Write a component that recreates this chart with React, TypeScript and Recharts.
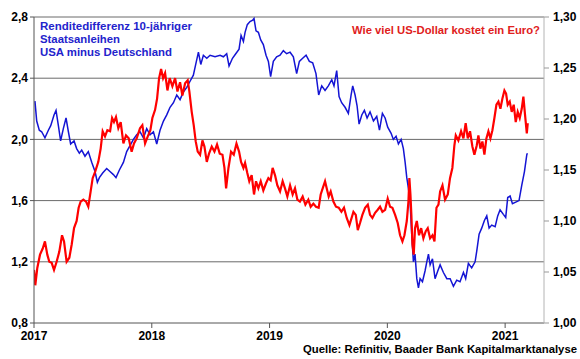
import React from "react";
import { LineChart, Line, XAxis, YAxis, ReferenceLine } from "recharts";

// Renditedifferenz 10-jähriger Staatsanleihen USA minus Deutschland (linke Achse)
const spreadDates = [
  2017.008, 2017.023, 2017.045, 2017.065, 2017.093, 2017.122, 2017.142, 2017.17, 2017.187, 2017.207,
  2017.226, 2017.249, 2017.272, 2017.292, 2017.311, 2017.34, 2017.362, 2017.385, 2017.405, 2017.433,
  2017.461, 2017.49, 2017.518, 2017.538, 2017.555, 2017.583, 2017.617, 2017.645, 2017.674, 2017.696,
  2017.725, 2017.759, 2017.787, 2017.815, 2017.844, 2017.872, 2017.9, 2017.929, 2017.957, 2017.985,
  2018.014, 2018.042, 2018.07, 2018.099, 2018.127, 2018.155, 2018.184, 2018.212, 2018.24, 2018.268,
  2018.297, 2018.325, 2018.353, 2018.373, 2018.396, 2018.416, 2018.438, 2018.467, 2018.495, 2018.537,
  2018.58, 2018.608, 2018.636, 2018.656, 2018.685, 2018.713, 2018.741, 2018.758, 2018.778, 2018.792,
  2018.811, 2018.834, 2018.857, 2018.868, 2018.885, 2018.905, 2018.925, 2018.947, 2018.97, 2018.99,
  2019.009, 2019.032, 2019.06, 2019.089, 2019.117, 2019.145, 2019.174, 2019.202, 2019.23, 2019.253,
  2019.281, 2019.31, 2019.338, 2019.366, 2019.394, 2019.417, 2019.443, 2019.471, 2019.499, 2019.528,
  2019.547, 2019.57, 2019.59, 2019.612, 2019.641, 2019.669, 2019.692, 2019.706, 2019.726, 2019.743,
  2019.76, 2019.783, 2019.805, 2019.828, 2019.853, 2019.882, 2019.91, 2019.933, 2019.958, 2019.981,
  2020.003, 2020.032, 2020.051, 2020.074, 2020.094, 2020.117, 2020.136, 2020.151, 2020.165, 2020.179,
  2020.193, 2020.207, 2020.221, 2020.235, 2020.25, 2020.264, 2020.278, 2020.298, 2020.32, 2020.335,
  2020.349, 2020.363, 2020.383, 2020.405, 2020.428, 2020.448, 2020.476, 2020.505, 2020.533, 2020.561,
  2020.589, 2020.617, 2020.646, 2020.665, 2020.688, 2020.716, 2020.745, 2020.759, 2020.779, 2020.801,
  2020.824, 2020.844, 2020.864, 2020.886, 2020.915, 2020.937, 2020.957, 2020.985, 2021.005, 2021.022,
  2021.042, 2021.062, 2021.09, 2021.118, 2021.141, 2021.164, 2021.184, 2021.189,
];
const spreadValues = [
  2.25, 2.12, 2.06, 2.05, 2.01, 2.06, 2.09, 2.16, 2.19, 2.09,
  1.99, 2.07, 2.14, 2.05, 1.97, 1.99, 1.94, 1.91, 1.93, 1.89,
  1.92, 1.85, 1.79, 1.72, 1.75, 1.78, 1.81, 1.79, 1.77, 1.75,
  1.8, 1.85, 1.92, 1.96, 2.0, 2.03, 2.05, 2.01, 2.07, 2.03,
  2.05, 1.97, 2.06, 2.12, 2.16, 2.21, 2.24, 2.29, 2.26, 2.31,
  2.34, 2.38, 2.42, 2.49, 2.57, 2.49, 2.55, 2.53, 2.55, 2.54,
  2.55, 2.54, 2.56, 2.48, 2.53, 2.56, 2.59, 2.68, 2.64, 2.7,
  2.75, 2.77, 2.78, 2.79, 2.71, 2.7, 2.65, 2.62, 2.55, 2.51,
  2.41, 2.51, 2.54, 2.55, 2.58, 2.56, 2.57, 2.54, 2.43, 2.51,
  2.53, 2.55, 2.51, 2.5, 2.43, 2.29, 2.35, 2.32, 2.35, 2.39,
  2.35, 2.45, 2.28, 2.24, 2.21, 2.17, 2.29, 2.35, 2.29, 2.22,
  2.1, 2.16, 2.19, 2.14, 2.18, 2.12, 2.15, 2.06, 2.17, 2.14,
  2.08, 2.04, 2.0, 2.02, 1.97, 2.0, 1.94, 1.85, 1.75, 1.68,
  1.59, 1.38, 1.2, 1.25, 1.09, 1.03, 1.09, 1.07, 1.14, 1.2,
  1.25, 1.18, 1.22, 1.09, 1.14, 1.18, 1.13, 1.09, 1.09, 1.04,
  1.08, 1.07, 1.13, 1.09, 1.19, 1.16, 1.2, 1.27, 1.38, 1.42,
  1.47, 1.5, 1.42, 1.44, 1.43, 1.5, 1.54, 1.51, 1.49, 1.62,
  1.63, 1.58, 1.59, 1.6, 1.7, 1.79, 1.9, 1.91,
];

// Wie viel US-Dollar kostet ein Euro? (rechte Achse)
const eurusdDates = [
  2017.0, 2017.011, 2017.028, 2017.051, 2017.074, 2017.093, 2017.113, 2017.13, 2017.15, 2017.17,
  2017.192, 2017.215, 2017.238, 2017.255, 2017.277, 2017.3, 2017.32, 2017.34, 2017.362, 2017.379,
  2017.396, 2017.419, 2017.442, 2017.461, 2017.481, 2017.498, 2017.518, 2017.546, 2017.566, 2017.583,
  2017.603, 2017.623, 2017.646, 2017.663, 2017.679, 2017.696, 2017.716, 2017.736, 2017.759, 2017.781,
  2017.804, 2017.829, 2017.849, 2017.872, 2017.9, 2017.92, 2017.943, 2017.966, 2017.988, 2018.005,
  2018.028, 2018.045, 2018.062, 2018.079, 2018.096, 2018.113, 2018.133, 2018.152, 2018.175, 2018.198,
  2018.218, 2018.24, 2018.26, 2018.283, 2018.305, 2018.319, 2018.339, 2018.356, 2018.373, 2018.39,
  2018.41, 2018.43, 2018.447, 2018.467, 2018.486, 2018.509, 2018.532, 2018.554, 2018.577, 2018.6,
  2018.617, 2018.631, 2018.651, 2018.673, 2018.696, 2018.719, 2018.741, 2018.758, 2018.778, 2018.792,
  2018.811, 2018.828, 2018.848, 2018.868, 2018.885, 2018.905, 2018.925, 2018.947, 2018.97, 2018.99,
  2019.009, 2019.026, 2019.046, 2019.066, 2019.089, 2019.111, 2019.131, 2019.151, 2019.174, 2019.196,
  2019.216, 2019.236, 2019.258, 2019.281, 2019.304, 2019.329, 2019.349, 2019.372, 2019.394, 2019.417,
  2019.434, 2019.451, 2019.471, 2019.485, 2019.502, 2019.519, 2019.542, 2019.564, 2019.587, 2019.61,
  2019.632, 2019.655, 2019.678, 2019.712, 2019.732, 2019.749, 2019.768, 2019.788, 2019.811, 2019.834,
  2019.853, 2019.873, 2019.896, 2019.918, 2019.938, 2019.958, 2019.981, 2020.003, 2020.023, 2020.043,
  2020.066, 2020.088, 2020.108, 2020.128, 2020.145, 2020.165, 2020.179, 2020.187, 2020.196, 2020.204,
  2020.213, 2020.224, 2020.235, 2020.25, 2020.269, 2020.287, 2020.306, 2020.326, 2020.343, 2020.363,
  2020.383, 2020.4, 2020.417, 2020.434, 2020.448, 2020.468, 2020.49, 2020.513, 2020.532, 2020.552,
  2020.569, 2020.581, 2020.603, 2020.626, 2020.646, 2020.665, 2020.683, 2020.702, 2020.722, 2020.739,
  2020.759, 2020.773, 2020.79, 2020.807, 2020.824, 2020.841, 2020.858, 2020.875, 2020.892, 2020.909,
  2020.926, 2020.943, 2020.96, 2020.977, 2020.994, 2021.008, 2021.022, 2021.039, 2021.056, 2021.073,
  2021.09, 2021.107, 2021.124, 2021.141, 2021.155, 2021.169, 2021.184, 2021.192,
];
const eurusdValues = [
  1.052, 1.037, 1.054, 1.067, 1.073, 1.08, 1.067, 1.06, 1.059, 1.052,
  1.06, 1.07, 1.086, 1.08, 1.06, 1.064, 1.077, 1.093, 1.1, 1.113,
  1.119, 1.121, 1.119, 1.114, 1.129, 1.142, 1.148, 1.158, 1.171, 1.188,
  1.183, 1.189, 1.188, 1.201, 1.197, 1.202, 1.191, 1.197, 1.176, 1.184,
  1.181, 1.168, 1.176, 1.181, 1.191, 1.194, 1.176, 1.183, 1.189, 1.201,
  1.209, 1.22, 1.24, 1.249, 1.24, 1.245, 1.228, 1.24, 1.232, 1.24,
  1.227, 1.236, 1.223, 1.235, 1.238, 1.227, 1.207, 1.194, 1.178, 1.168,
  1.165, 1.179, 1.173, 1.158, 1.166, 1.173, 1.168, 1.175, 1.166, 1.165,
  1.152, 1.132, 1.152, 1.168, 1.165, 1.176, 1.168, 1.158, 1.152, 1.157,
  1.147, 1.139, 1.145, 1.126, 1.139, 1.132, 1.139, 1.13, 1.137, 1.142,
  1.14, 1.152, 1.145, 1.135, 1.129, 1.139, 1.132, 1.124, 1.135, 1.126,
  1.132, 1.121, 1.119, 1.124, 1.116, 1.121, 1.114, 1.117, 1.114, 1.113,
  1.126, 1.132, 1.139, 1.132, 1.124, 1.129, 1.119, 1.114, 1.113, 1.109,
  1.113, 1.103, 1.096, 1.109, 1.106, 1.091, 1.098, 1.106, 1.113, 1.116,
  1.106, 1.103, 1.108, 1.111, 1.114, 1.109, 1.111, 1.122, 1.114, 1.113,
  1.106, 1.098, 1.086, 1.08, 1.086, 1.1, 1.119, 1.142, 1.126, 1.106,
  1.077, 1.067, 1.093, 1.1, 1.086, 1.093, 1.083, 1.09, 1.093, 1.083,
  1.086, 1.08, 1.113, 1.116, 1.129, 1.135, 1.121, 1.126, 1.142, 1.152,
  1.174, 1.184, 1.179, 1.188, 1.181, 1.196, 1.181, 1.188, 1.173, 1.165,
  1.174, 1.184, 1.171, 1.178, 1.165, 1.181, 1.188, 1.181, 1.189, 1.201,
  1.214, 1.217, 1.21, 1.22, 1.228, 1.225, 1.214, 1.217, 1.207, 1.214,
  1.197, 1.207, 1.201, 1.21, 1.222, 1.204, 1.186, 1.196,
];

const yearTicks = [2017, 2018, 2019, 2020, 2021];
const spreadTicks = [0.8, 1.2, 1.6, 2.0, 2.4, 2.8];
const eurusdTicks = [1.0, 1.05, 1.1, 1.15, 1.2, 1.25, 1.3];
const gridLevels = [1.2, 1.6, 2.0, 2.4, 2.8];

const spreadData = spreadDates.map((t, i) => ({ t, v: spreadValues[i] }));
const eurusdData = eurusdDates.map((t, i) => ({ t, v: eurusdValues[i] }));

const FONT = "'Liberation Sans', Arial, sans-serif";
const tickStyle = { fontFamily: FONT, fontSize: 12, fontWeight: 700, fill: "#000" };
const comma = (v: number, d: number) => v.toFixed(d).replace(".", ",");

export default function App() {
  return (
    <div style={{ position: "absolute", left: 0, top: 0, width: 580, height: 359, background: "#fff" }}>
      <LineChart width={580} height={359} margin={{ top: 17, right: 0, bottom: 0, left: 0 }}>
        <XAxis
          type="number"
          dataKey="t"
          domain={[2017, 2021.33]}
          ticks={yearTicks}
          allowDataOverflow
          tickFormatter={(v) => String(v)}
          tick={tickStyle}
          tickSize={5}
          tickMargin={3}
          height={36}
          axisLine={{ stroke: "#555" }}
          tickLine={{ stroke: "#555" }}
        />
        <YAxis
          yAxisId="left"
          domain={[0.8, 2.8]}
          ticks={spreadTicks}
          tickFormatter={(v) => comma(v, 1)}
          tick={tickStyle}
          tickSize={4}
          tickMargin={2}
          width={34}
          axisLine={{ stroke: "#555" }}
          tickLine={{ stroke: "#555" }}
        />
        <YAxis
          yAxisId="right"
          orientation="right"
          domain={[1.0, 1.3]}
          ticks={eurusdTicks}
          tickFormatter={(v) => comma(v, 2)}
          tick={tickStyle}
          tickSize={5}
          tickMargin={4}
          width={36}
          axisLine={{ stroke: "#b4b4b4" }}
          tickLine={{ stroke: "#999" }}
        />
        {gridLevels.map((lvl) => (
          <ReferenceLine key={lvl} yAxisId="left" y={lvl} stroke="#6a6a6a" strokeWidth={1} />
        ))}
        <Line
          yAxisId="left"
          data={spreadData}
          dataKey="v"
          type="linear"
          stroke="#1414d4"
          strokeWidth={1.5}
          dot={false}
          isAnimationActive={false}
        />
        <Line
          yAxisId="right"
          data={eurusdData}
          dataKey="v"
          type="linear"
          stroke="#ff0000"
          strokeWidth={2.2}
          dot={false}
          isAnimationActive={false}
        />
      </LineChart>
      <svg
        width={580}
        height={359}
        style={{ position: "absolute", left: 0, top: 0, pointerEvents: "none" }}
        fontFamily={FONT}
        fontWeight={700}
        fontSize={11}
      >
        <text x={40} y={30} fill="#2323cc" textLength={152} lengthAdjust="spacingAndGlyphs">
          Renditedifferenz 10-jähriger
        </text>
        <text x={40} y={43} fill="#2323cc" textLength={80} lengthAdjust="spacingAndGlyphs">
          Staatsanleihen
        </text>
        <text x={40} y={56} fill="#2323cc" textLength={132} lengthAdjust="spacingAndGlyphs">
          USA minus Deutschland
        </text>
        <text x={352} y={34} fill="#e02020" textLength={188} lengthAdjust="spacingAndGlyphs">
          Wie viel US-Dollar kostet ein Euro?
        </text>
        <text x={303} y={353} fill="#000" textLength={274} lengthAdjust="spacingAndGlyphs">
          Quelle: Refinitiv, Baader Bank Kapitalmarktanalyse
        </text>
      </svg>
    </div>
  );
}
